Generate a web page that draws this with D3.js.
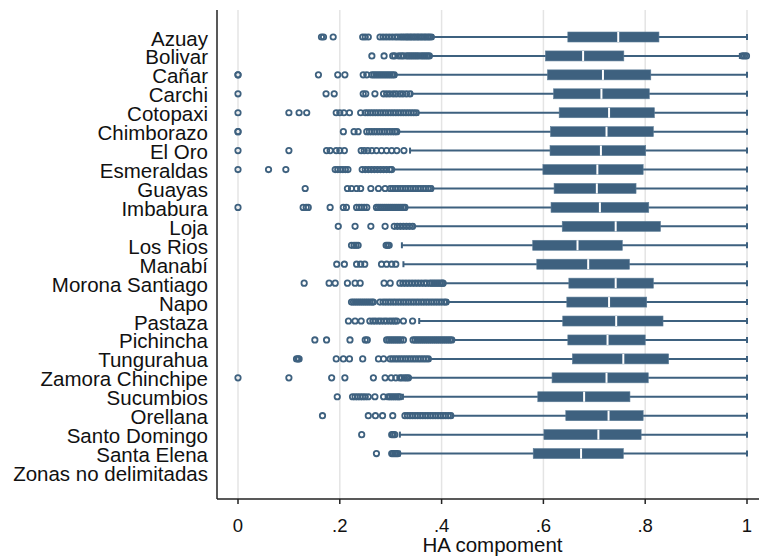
<!DOCTYPE html>
<html>
<head>
<meta charset="utf-8">
<script src="https://cdn.jsdelivr.net/npm/d3@7"></script>
<style>
  body { margin: 0; background: #fff; }
  svg { display: block; }
</style>
</head>
<body>
<div id="chart"></div>
<script>
const regions = ["Azuay", "Bolivar", "Cañar", "Carchi", "Cotopaxi", "Chimborazo", "El Oro",
    "Esmeraldas", "Guayas", "Imbabura", "Loja", "Los Rios", "Manabí", "Morona Santiago",
    "Napo", "Pastaza", "Pichincha", "Tungurahua", "Zamora Chinchipe", "Sucumbios",
    "Orellana", "Santo Domingo", "Santa Elena", "Zonas no delimitadas"];

const q1 = [0.648, 0.604, 0.608, 0.620, 0.631, 0.614, 0.613, 0.599, 0.621, 0.615, 0.637, 0.579,
    0.587, 0.650, 0.646, 0.638, 0.648, 0.657, 0.617, 0.589, 0.644, 0.601, 0.580, null];
const medians = [0.747, 0.678, 0.717, 0.714, 0.729, 0.724, 0.713, 0.706, 0.705, 0.711, 0.742, 0.667,
    0.688, 0.742, 0.729, 0.743, 0.726, 0.757, 0.724, 0.680, 0.728, 0.708, 0.674, null];
const q3 = [0.827, 0.758, 0.811, 0.808, 0.818, 0.816, 0.801, 0.796, 0.782, 0.807, 0.830, 0.755,
    0.769, 0.816, 0.803, 0.835, 0.800, 0.846, 0.806, 0.770, 0.796, 0.792, 0.757, null];
const lowAdj = [0.383, 0.377, 0.310, 0.341, 0.354, 0.315, 0.338, 0.304, 0.382, 0.331, 0.346, 0.322,
    0.325, 0.405, 0.412, 0.356, 0.423, 0.377, 0.337, 0.324, 0.421, 0.318, 0.318, null];
const highAdj = [1, 0.986, 1, 1, 1, 1, 1, 1, 1, 1, 1, 1,
    1, 1, 1, 1, 1, 1, 1, 1, 1, 1, 1, null];

const outliers = [
    [0.164, 0.168, 0.187, 0.245, 0.250, 0.256, 0.279, 0.285, 0.291, 0.297, 0.303, 0.309, 0.314, 0.319,
     0.323, 0.327, 0.331, 0.334, 0.338, 0.341, 0.345, 0.348, 0.352, 0.355, 0.359, 0.362, 0.366, 0.369,
     0.373, 0.376, 0.380],
    [0.263, 0.287, 0.304, 0.308, 0.316, 0.321, 0.325, 0.331, 0.335, 0.339, 0.343, 0.347, 0.351, 0.355,
     0.360, 0.364, 0.368, 0.372, 0.376, 0.991, 0.995, 0.999],
    [0, 0, 0.158, 0.196, 0.210, 0.246, 0.253, 0.263, 0.267, 0.271, 0.275, 0.279, 0.283, 0.287, 0.291,
     0.295, 0.299, 0.303, 0.307],
    [0, 0.173, 0.189, 0.246, 0.251, 0.269, 0.286, 0.292, 0.298, 0.305, 0.311, 0.318, 0.324, 0.331, 0.338],
    [0, 0.100, 0.120, 0.135, 0.193, 0.200, 0.208, 0.219, 0.241, 0.250, 0.255, 0.260, 0.265, 0.270, 0.275,
     0.280, 0.285, 0.290, 0.295, 0.300, 0.305, 0.310, 0.315, 0.320, 0.325, 0.330, 0.335, 0.340, 0.345, 0.350],
    [0, 0, 0.207, 0.228, 0.236, 0.253, 0.258, 0.263, 0.268, 0.273, 0.278, 0.283, 0.288, 0.293, 0.298,
     0.303, 0.308, 0.312],
    [0, 0.100, 0.174, 0.181, 0.193, 0.200, 0.209, 0.242, 0.248, 0.255, 0.263, 0.272, 0.282, 0.292, 0.302,
     0.312, 0.326],
    [0, 0.060, 0.094, 0.191, 0.196, 0.201, 0.206, 0.211, 0.216, 0.244, 0.250, 0.256, 0.262, 0.268, 0.274,
     0.280, 0.286, 0.292, 0.298, 0.302],
    [0.132, 0.215, 0.223, 0.233, 0.241, 0.261, 0.276, 0.289, 0.299, 0.304, 0.309, 0.314, 0.319, 0.324,
     0.329, 0.334, 0.339, 0.344, 0.349, 0.354, 0.359, 0.364, 0.369, 0.374, 0.379],
    [0, 0.128, 0.134, 0.138, 0.181, 0.207, 0.213, 0.233, 0.238, 0.243, 0.248, 0.253, 0.272, 0.276, 0.280,
     0.284, 0.288, 0.292, 0.296, 0.300, 0.304, 0.308, 0.312, 0.316, 0.320, 0.324, 0.328],
    [0.197, 0.230, 0.261, 0.289, 0.307, 0.313, 0.319, 0.325, 0.331, 0.337, 0.343],
    [0.223, 0.228, 0.232, 0.236, 0.291, 0.294, 0.297],
    [0.194, 0.209, 0.233, 0.241, 0.249, 0.282, 0.292, 0.302, 0.310],
    [0.130, 0.179, 0.191, 0.215, 0.230, 0.240, 0.287, 0.299, 0.318, 0.324, 0.330, 0.336, 0.342, 0.348,
     0.354, 0.360, 0.366, 0.371, 0.377, 0.381, 0.385, 0.389, 0.393, 0.397, 0.401, 0.403],
    [0.223, 0.227, 0.231, 0.235, 0.239, 0.243, 0.247, 0.251, 0.255, 0.259, 0.263, 0.266, 0.279, 0.285,
     0.290, 0.295, 0.300, 0.305, 0.310, 0.315, 0.320, 0.325, 0.330, 0.335, 0.340, 0.345, 0.350, 0.355,
     0.360, 0.365, 0.370, 0.375, 0.380, 0.385, 0.390, 0.395, 0.400, 0.405, 0.409],
    [0.217, 0.230, 0.242, 0.259, 0.265, 0.270, 0.276, 0.281, 0.287, 0.292, 0.298, 0.303, 0.308, 0.312,
     0.325, 0.343],
    [0.151, 0.174, 0.220, 0.250, 0.254, 0.292, 0.296, 0.300, 0.304, 0.308, 0.312, 0.316, 0.320, 0.325,
     0.344, 0.348, 0.352, 0.356, 0.360, 0.364, 0.368, 0.372, 0.376, 0.380, 0.384, 0.388, 0.392, 0.396,
     0.400, 0.404, 0.408, 0.412, 0.416, 0.420],
    [0.115, 0.118, 0.120, 0.193, 0.207, 0.219, 0.245, 0.276, 0.286, 0.299, 0.304, 0.309, 0.314, 0.319,
     0.324, 0.329, 0.334, 0.339, 0.344, 0.349, 0.354, 0.359, 0.364, 0.369, 0.374],
    [0, 0.100, 0.184, 0.210, 0.266, 0.289, 0.301, 0.310, 0.318, 0.322, 0.327, 0.331, 0.335],
    [0.195, 0.225, 0.230, 0.235, 0.240, 0.245, 0.250, 0.256, 0.269, 0.286, 0.295, 0.299, 0.303, 0.307,
     0.311, 0.315, 0.318],
    [0.166, 0.256, 0.270, 0.284, 0.304, 0.328, 0.333, 0.338, 0.343, 0.348, 0.353, 0.358, 0.363, 0.368,
     0.373, 0.378, 0.383, 0.388, 0.393, 0.398, 0.403, 0.408, 0.413, 0.418],
    [0.243, 0.302, 0.305, 0.308],
    [0.272, 0.302, 0.305, 0.308, 0.311, 0.314],
    []
];

const xTicks = [0, 0.2, 0.4, 0.6, 0.8, 1];
const xTickLabels = ["0", ".2", ".4", ".6", ".8", "1"];
const xTitle = "HA compoment";

const width = 759;
const height = 558;
const color = "#3e617f";
const font = "'Liberation Sans', Arial, sans-serif";

// plot region (Stata style: left + bottom axis only)
const plot = {left: 217, top: 10, bottom: 499, right: 759};

const x = d3.scaleLinear().domain([0, 1]).range([238, 747]);
const y = d3.scalePoint().domain(regions).range([37, 472.5]);

const svg = d3.select("#chart").append("svg")
    .attr("width", width)
    .attr("height", height)
    .style("font-family", font);

// grid
svg.append("g")
    .selectAll("line")
    .data(xTicks)
    .enter()
    .append("line")
    .attr("x1", d => x(d))
    .attr("x2", d => x(d))
    .attr("y1", plot.top)
    .attr("y2", plot.bottom)
    .attr("stroke", "#e4e4e4")
    .attr("stroke-width", 1.5);

const rows = regions.map((r, i) => ({
    region: r, q1: q1[i], med: medians[i], q3: q3[i],
    lo: lowAdj[i], hi: highAdj[i], out: outliers[i]
})).filter(d => d.q1 != null);

const boxH = 10;
const capH = 6;

const g = svg.append("g");

// whiskers
g.selectAll(".whisker")
    .data(rows)
    .enter()
    .append("line")
    .attr("class", "whisker")
    .attr("x1", d => x(d.lo))
    .attr("x2", d => x(d.hi))
    .attr("y1", d => y(d.region))
    .attr("y2", d => y(d.region))
    .attr("stroke", color)
    .attr("stroke-width", 2);

// caps
const caps = rows.flatMap(d => [{region: d.region, v: d.lo}, {region: d.region, v: d.hi}]);
g.selectAll(".cap")
    .data(caps)
    .enter()
    .append("line")
    .attr("class", "cap")
    .attr("x1", d => x(d.v))
    .attr("x2", d => x(d.v))
    .attr("y1", d => y(d.region) - capH / 2)
    .attr("y2", d => y(d.region) + capH / 2)
    .attr("stroke", color)
    .attr("stroke-width", 2);

// boxes
g.selectAll(".box")
    .data(rows)
    .enter()
    .append("rect")
    .attr("class", "box")
    .attr("x", d => x(d.q1))
    .attr("y", d => y(d.region) - boxH / 2)
    .attr("width", d => x(d.q3) - x(d.q1))
    .attr("height", boxH)
    .attr("fill", color)
    .attr("stroke", "#5d7d97")
    .attr("stroke-width", 0.6);

// medians
g.selectAll(".median")
    .data(rows)
    .enter()
    .append("line")
    .attr("class", "median")
    .attr("x1", d => x(d.med))
    .attr("x2", d => x(d.med))
    .attr("y1", d => y(d.region) - boxH / 2)
    .attr("y2", d => y(d.region) + boxH / 2)
    .attr("stroke", "#fff")
    .attr("stroke-width", 2);

// outside values
const pts = rows.flatMap(d => d.out.map(v => ({region: d.region, v: v})));
g.selectAll(".pt")
    .data(pts)
    .enter()
    .append("circle")
    .attr("class", "pt")
    .attr("cx", d => x(d.v))
    .attr("cy", d => y(d.region))
    .attr("r", 2.7)
    .attr("fill", "none")
    .attr("stroke", color)
    .attr("stroke-width", 1.8);

// axes lines
svg.append("line")
    .attr("x1", plot.left).attr("x2", plot.left)
    .attr("y1", plot.top).attr("y2", plot.bottom)
    .attr("stroke", "#222").attr("stroke-width", 1.5);
svg.append("line")
    .attr("x1", plot.left).attr("x2", plot.right)
    .attr("y1", plot.bottom).attr("y2", plot.bottom)
    .attr("stroke", "#222").attr("stroke-width", 1.5);

// x ticks + labels
const xa = svg.append("g");
xa.selectAll("line")
    .data(xTicks)
    .enter()
    .append("line")
    .attr("x1", d => x(d)).attr("x2", d => x(d))
    .attr("y1", plot.bottom).attr("y2", plot.bottom + 5)
    .attr("stroke", "#222").attr("stroke-width", 1.5);
xa.selectAll("text")
    .data(xTicks)
    .enter()
    .append("text")
    .attr("x", d => x(d))
    .attr("y", 525)
    .attr("text-anchor", "middle")
    .attr("dominant-baseline", "central")
    .attr("font-size", "18.5px")
    .attr("fill", "#111")
    .text((d, i) => xTickLabels[i]);

svg.append("text")
    .attr("x", (x(0) + x(1)) / 2)
    .attr("y", 552)
    .attr("text-anchor", "middle")
    .attr("font-size", "20.5px")
    .attr("fill", "#111")
    .text(xTitle);

// y labels
svg.append("g")
    .selectAll("text")
    .data(regions)
    .enter()
    .append("text")
    .attr("x", 208)
    .attr("y", d => y(d) + 1)
    .attr("text-anchor", "end")
    .attr("dominant-baseline", "central")
    .attr("font-size", "20.5px")
    .attr("fill", "#111")
    .text(d => d);
</script>
</body>
</html>
